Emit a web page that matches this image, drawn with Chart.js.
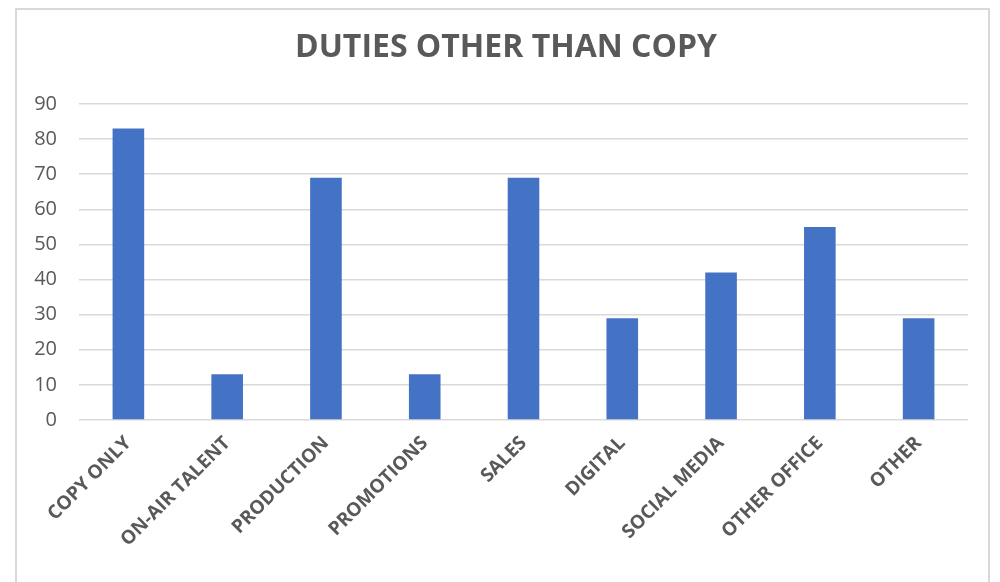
<!DOCTYPE html>
<html>
<head>
<meta charset="utf-8">
<script src="https://cdn.jsdelivr.net/npm/chart.js@4/dist/chart.umd.min.js"></script>
<style>
  body { margin: 0; background: #fff; }
  #wrap { position: relative; width: 1000px; height: 582px; }
  #frame {
    position: absolute; left: 15px; top: 8px; width: 975px; height: 600px;
    border: 2px solid #d9d9d9; box-sizing: border-box; pointer-events: none;
  }
  canvas { position: absolute; left: 0; top: 0; }
</style>
</head>
<body>
<div id="wrap">
  <canvas id="dutiesChart" width="1000" height="582"></canvas>
  <div id="frame"></div>
</div>
<script>
// chart data
const categories = ['COPY ONLY', 'ON-AIR TALENT', 'PRODUCTION', 'PROMOTIONS', 'SALES',
    'DIGITAL', 'SOCIAL MEDIA', 'OTHER OFFICE', 'OTHER'];
const counts = [83, 13, 69, 13, 69, 29, 42, 55, 29];
const yTicks = [0, 10, 20, 30, 40, 50, 60, 70, 80, 90];

const textGray = '#595959';
const fontName = "'Open Sans', 'Liberation Sans', sans-serif";

var ctx = document.getElementById('dutiesChart');

var myChart = new Chart(ctx, {
    type: 'bar',
    data: {
        labels: categories,
        datasets: [{
            label: 'Duties',
            data: counts,
            backgroundColor: '#4472C4',
            barPercentage: 0.32,
            categoryPercentage: 1
        }]
    },
    options: {
        responsive: false,
        animation: false,
        layout: { padding: { left: 12, right: 0, top: 0, bottom: 0 } },
        plugins: {
            legend: { display: false },
            tooltip: { enabled: false },
            title: {
                display: true,
                text: 'DUTIES OTHER THAN COPY',
                color: textGray,
                font: { family: fontName, size: 32, weight: 'bold' },
                padding: { top: 29, bottom: 36.6 }
            }
        },
        scales: {
            y: {
                min: yTicks[0],
                max: yTicks[yTicks.length - 1],
                afterBuildTicks: (s) => { s.ticks = yTicks.map(v => ({ value: v })); },
                ticks: {
                    color: textGray,
                    font: { family: fontName, size: 20 },
                    padding: 22
                },
                grid: { color: '#d9d9d9', lineWidth: 1.5, drawTicks: false },
                border: { display: false },
                afterFit: (s) => { s.width = 67; }
            },
            // empty spacer on the right side of the plot
            yRight: {
                position: 'right',
                min: 0,
                max: 1,
                grid: { display: false, drawTicks: false },
                border: { display: false },
                ticks: { display: false },
                afterFit: (s) => { s.width = 32; }
            },
            x: {
                grid: { display: false },
                border: { display: false },
                ticks: {
                    color: textGray,
                    font: { family: fontName, size: 19, weight: 'bold' },
                    minRotation: 45,
                    maxRotation: 45,
                    padding: 4
                },
                afterFit: (s) => { s.height = 162; }
            }
        }
    }
});
</script>
</body>
</html>
